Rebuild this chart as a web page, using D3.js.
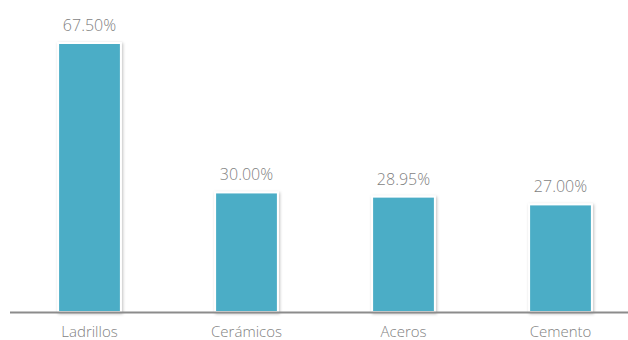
<!DOCTYPE html>
<html lang="es">
<head>
<meta charset="UTF-8" />
<title>Bar chart</title>
<script src="https://d3js.org/d3.v7.min.js"></script>
<style>
    body { margin: 0; background: #fff; overflow: hidden; }
    svg { display: block; }
    text { font-family: "Open Sans", "Liberation Sans", sans-serif; font-weight: 300; fill: #7f7f7f; }
</style>
</head>
<body>
<script>
    // datos
    const categories = ['Ladrillos', 'Cerámicos', 'Aceros', 'Cemento'];
    const values = [67.5, 30.0, 28.95, 27.0];

    const width = 628, height = 340;
    const baseY = 312;

    const svg = d3.select('body').append('svg').attr('width', width).attr('height', height);

    const defs = svg.append('defs');
    const f = defs.append('filter').attr('id', 'shadow').attr('x', '-20%').attr('y', '-20%').attr('width', '140%').attr('height', '140%');
    f.append('feDropShadow').attr('dx', 1).attr('dy', 1).attr('stdDeviation', 1.5).attr('flood-color', '#000').attr('flood-opacity', 0.25);

    const x = d3.scaleBand().domain(categories).range([11, 639]).paddingInner(0.6).paddingOuter(0.3);
    const y = d3.scaleLinear().domain([0, 67.5]).range([baseY, 43]);

    svg.selectAll('rect.bar')
        .data(values)
        .enter()
        .append('rect')
        .attr('class', 'bar')
        .attr('x', (d, i) => x(categories[i]))
        .attr('y', d => y(d))
        .attr('width', x.bandwidth())
        .attr('height', d => baseY - y(d))
        .attr('fill', '#4badc6')
        .attr('stroke', '#fff')
        .attr('stroke-width', 2)
        .attr('filter', 'url(#shadow)');

    // etiquetas de valor
    svg.selectAll('text.val')
        .data(values)
        .enter()
        .append('text')
        .attr('class', 'val')
        .attr('x', (d, i) => x(categories[i]) + x.bandwidth() / 2)
        .attr('y', d => y(d) - 12)
        .attr('text-anchor', 'middle')
        .style('font-size', '16px')
        .text(d => d.toFixed(2) + '%');

    // eje
    svg.append('line')
        .attr('x1', 10).attr('x2', width)
        .attr('y1', baseY + 0.5).attr('y2', baseY + 0.5)
        .attr('stroke', '#8c8c8c').attr('stroke-width', 2);

    svg.selectAll('text.cat')
        .data(categories)
        .enter()
        .append('text')
        .attr('class', 'cat')
        .attr('x', d => x(d) + x.bandwidth() / 2)
        .attr('y', 337)
        .attr('text-anchor', 'middle')
        .style('font-size', '15px')
        .text(d => d);
</script>
</body>
</html>
